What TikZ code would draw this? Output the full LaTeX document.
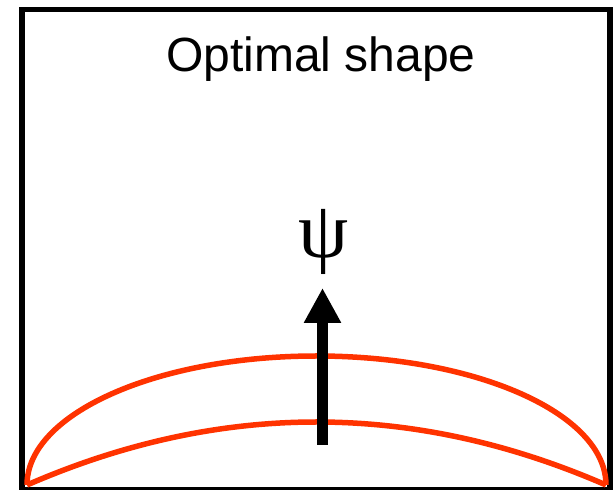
\documentclass[tikz,border=0pt]{standalone}
\usepackage{fontspec}
\setmainfont{Liberation Sans}
\newfontfamily\greekfont{Liberation Serif}
\usetikzlibrary{arrows.meta}
\definecolor{shapered}{RGB}{255,51,0}
\definecolor{framegray}{RGB}{0,0,0}

\begin{document}
\begin{tikzpicture}[
    x=1pt, y=1pt,
    >={Triangle[length=35pt, width=35pt]}
]

\useasboundingbox (0,0) rectangle (614,490);
\clip (0,0) rectangle (614,490);

% Frame
\draw[framegray, line width=5.5pt] (22,0.5) rectangle (609.75,480.3);

% Title
\node[font=\fontsize{48}{58}\selectfont, anchor=base] (title) at (321,418) {Optimal shape};

% Red boundary curves (upper and lower)
\coordinate (L) at (27,5);
\coordinate (R) at (606,5);
\draw[shapered, line width=5.5pt] (R) arc[start angle=0, end angle=180, x radius=289.5, y radius=129];
\draw[shapered, line width=5.5pt] (L) .. controls (220,89) and (413,89) .. (R);

% Direction arrow and label
\coordinate (tail) at (322.5,45);
\coordinate (tip) at (322.5,202);
\draw[black, line width=11.6pt, ->] (tail) -- (tip);
\node[font=\greekfont\fontsize{80}{90}\selectfont, inner sep=0pt] (psi) at (324,248) {ψ};

\end{tikzpicture}
\end{document}
